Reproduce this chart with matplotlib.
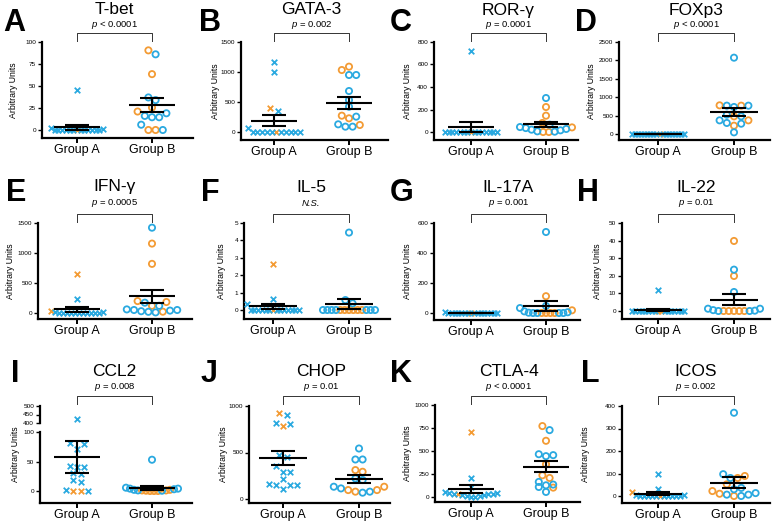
import numpy as np
import matplotlib.pyplot as plt
from matplotlib.lines import Line2D

plt.rcParams['font.family'] = ['Liberation Sans', 'DejaVu Sans']
plt.rcParams['mathtext.fontset'] = 'custom'
plt.rcParams['mathtext.it'] = 'Liberation Sans:italic'
plt.rcParams['mathtext.rm'] = 'Liberation Sans'

BLUE = '#2AA9E0'
ORANGE = '#F39B34'
W, H = 772, 524

# ---- data ----
titles = ['T-bet', 'GATA-3', 'ROR-\u03b3', 'FOXp3', 'IFN-\u03b3', 'IL-5',
          'IL-17A', 'IL-22', 'CCL2', 'CHOP', 'CTLA-4', 'ICOS']
letters = list('ABCDEFGHIJKL')
pvals = ['$\\it{p}$ < 0.0001', '$\\it{p}$ = 0.002', '$\\it{p}$ = 0.0001', '$\\it{p}$ < 0.0001',
         '$\\it{p}$ = 0.0005', 'N.S.', '$\\it{p}$ = 0.001', '$\\it{p}$ = 0.01',
         '$\\it{p}$ = 0.008', '$\\it{p}$ = 0.01', '$\\it{p}$ < 0.0001', '$\\it{p}$ = 0.002']
groups = ['Group A', 'Group B']

tbet_a_blue = [46, 2, 1, 0, 0, 0, 0, 0, 0, 0, 0, 0, 0, 0, 0]
tbet_a_orange = [0]
tbet_b_blue = [86, 37, 34, 19, 16, 14.5, 14.5, 6, 0]
tbet_b_orange = [90.5, 63.5, 25.5, 21, 0, 0]

gata3_a_blue = [1167, 1005, 350, 60, 0, 0, 0, 0, 0, 0, 0, 0, 0, 0]
gata3_a_orange = [394, 0]
gata3_b_blue = [950, 950, 683, 533, 422, 256, 128, 89, 89]
gata3_b_orange = [1089, 1033, 272, 228, 117]

rorg_a_blue = [723, 0, 0, 0, 0, 0, 0, 0, 0, 0, 0, 0, 0, 0, 0]
rorg_a_orange = [0]
rorg_b_blue = [302, 65, 44, 35, 27, 21, 15, 6, 3]
rorg_b_orange = [222, 145, 80, 41, 0, 0]

foxp3_a_blue = [0, 0, 0, 0, 0, 0, 0, 0, 0, 0, 0, 0, 0, 0, 0, 0, 0]
foxp3_a_orange = [0]
foxp3_b_blue = [2074, 770, 770, 734, 525, 480, 371, 300, 280, 45]
foxp3_b_orange = [779, 770, 480, 371, 226]

ifng_a_blue = [232, 15, 10, 0, 0, 0, 0, 0, 0, 0, 0, 0, 0, 0]
ifng_a_orange = [653, 33]
ifng_b_blue = [1422, 172, 120, 60, 50, 50, 40, 30, 20, 10]
ifng_b_orange = [1157, 819, 199, 183, 120, 22]

il5_a_blue = [0.63, 0.32, 0, 0, 0, 0, 0, 0, 0, 0, 0, 0, 0, 0, 0]
il5_a_orange = [2.67, 0]
il5_b_blue = [4.45, 0.57, 0.38, 0, 0, 0, 0, 0, 0, 0]
il5_b_orange = [0, 0, 0, 0, 0, 0]

il17_a_blue = [8, 0, 0, 0, 0, 0, 0, 0, 0, 0, 0, 0, 0, 0, 0, 0]
il17_a_orange = [0]
il17_b_blue = [540, 47, 33, 11, 5, 2, 0, 0, 0, 0]
il17_b_orange = [112, 18, 0, 0, 0, 0]

il22_a_blue = [11.7, 0, 0, 0, 0, 0, 0, 0, 0, 0, 0, 0, 0, 0, 0, 0]
il22_a_orange = [0, 0]
il22_b_blue = [23.5, 10.8, 1.3, 1.3, 0.5, 0.2, 0, 0]
il22_b_orange = [39.8, 19.9, 0, 0, 0, 0, 0]

ccl2_a_blue = [423, 81, 79, 71, 42, 40, 40, 30, 29, 19, 16, 2, 0.5]
ccl2_a_orange = [0, 0]
ccl2_b_blue = [53, 5.6, 4, 4, 3, 2, 1, 0.5]
ccl2_b_orange = [2, 1, 1, 0.5, 0, 0, 0]

chop_a_blue = [900, 814, 807, 471, 454, 354, 293, 293, 214, 161, 150, 150, 150, 104]
chop_a_orange = [925, 782]
chop_b_blue = [543, 425, 425, 221, 204, 132, 114, 79, 68]
chop_b_orange = [311, 293, 132, 96, 96, 79]

ctla4_a_blue = [207, 109, 50, 45, 40, 35, 35, 30, 25, 20, 15, 10, 5, 0]
ctla4_a_orange = [709, 29]
ctla4_b_blue = [727, 465, 455, 444, 164, 135, 127, 109, 55]
ctla4_b_orange = [771, 611, 356, 236, 207, 102]

icos_a_blue = [97, 33, 5, 3, 0, 0, 0, 0, 0, 0, 0, 0, 0, 0]
icos_a_orange = [18, 0]
icos_b_blue = [370, 97, 80, 36, 30, 13, 6, 6, 0]
icos_b_orange = [89, 80, 52, 22, 10, 0]

yticks = [[0, 25, 50, 75, 100], [0, 500, 1000, 1500], [0, 200, 400, 600, 800],
          [0, 500, 1000, 1500, 2000, 2500], [0, 500, 1000, 1500], [0, 1, 2, 3, 4, 5],
          [0, 200, 400, 600], [0, 10, 20, 30, 40, 50], [0, 50, 100],
          [0, 500, 1000], [0, 250, 500, 750, 1000], [0, 100, 200, 300, 400]]
ccl2_upper_ticks = [400, 450, 500]

data = [
    (tbet_a_blue, tbet_a_orange, tbet_b_blue, tbet_b_orange),
    (gata3_a_blue, gata3_a_orange, gata3_b_blue, gata3_b_orange),
    (rorg_a_blue, rorg_a_orange, rorg_b_blue, rorg_b_orange),
    (foxp3_a_blue, foxp3_a_orange, foxp3_b_blue, foxp3_b_orange),
    (ifng_a_blue, ifng_a_orange, ifng_b_blue, ifng_b_orange),
    (il5_a_blue, il5_a_orange, il5_b_blue, il5_b_orange),
    (il17_a_blue, il17_a_orange, il17_b_blue, il17_b_orange),
    (il22_a_blue, il22_a_orange, il22_b_blue, il22_b_orange),
    (ccl2_a_blue, ccl2_a_orange, ccl2_b_blue, ccl2_b_orange),
    (chop_a_blue, chop_a_orange, chop_b_blue, chop_b_orange),
    (ctla4_a_blue, ctla4_a_orange, ctla4_b_blue, ctla4_b_orange),
    (icos_a_blue, icos_a_orange, icos_b_blue, icos_b_orange),
]

# ---- layout in pixels: left, top, right, bottom, zero, xA, xB, letter x, ylabel x ----
layout = [
    (42, 42, 193, 138, 130, 77, 152, 3, 13),
    (241, 42, 388, 140, 132, 274, 349, 199, 216),
    (434, 42, 578, 140, 132, 471, 546, 390, 407),
    (619, 42, 770, 140, 134, 658, 734, 575, 592),
    (38, 223, 192, 319, 313, 77, 152, 6, 11),
    (244, 223, 390, 319, 310, 273, 349, 201, 221),
    (434, 223, 580, 320, 313, 471, 546, 390, 407),
    (622, 223, 770, 319, 311, 658, 734, 577, 597),
    (40, 432, 192, 503, 491, 77, 152, 11, 16),
    (249, 406, 390, 503, 499, 283, 359, 201, 224),
    (435, 405, 580, 502, 497, 471, 546, 390, 407),
    (622, 406, 770, 503, 496, 658, 734, 581, 586),
]
# title y, p y, bracket top, bracket legs, letter y
rows = [(10, 25, 33, 41, 23), (187, 203, 214, 222, 193), (371, 387, 396, 404, 374)]

fig = plt.figure(figsize=(W / 100, H / 100), dpi=100)


def add_px_axes(left, top, right, bottom):
    return fig.add_axes([left / W, 1 - bottom / H, (right - left) / W, (bottom - top) / H])


def style(ax, ticks, xaxis=True):
    for s in ['top', 'right']:
        ax.spines[s].set_visible(False)
    ax.spines['left'].set_linewidth(1.6)
    ax.set_yticks(ticks)
    ax.tick_params(axis='y', length=3, width=1.0, labelsize=4.6, pad=1.2, direction='out')
    if xaxis:
        ax.spines['bottom'].set_linewidth(1.6)
        ax.set_xticks([0, 1])
        ax.set_xticklabels(groups)
        ax.tick_params(axis='x', length=3.5, width=1.4, labelsize=9, pad=1.0)
    else:
        ax.spines['bottom'].set_visible(False)
        ax.set_xticks([])
    ax.patch.set_alpha(0)


def swarm(ypix, row_h=6.0, gap=7.2, max_w=52.0):
    # Prism-like: bin points into rows, lowest value in the middle of each row
    order = sorted(range(len(ypix)), key=lambda i: ypix[i])
    offs = [0.0] * len(ypix)
    rows_, cur = [], []
    for i in order:
        if cur and ypix[i] - ypix[cur[0]] > row_h:
            rows_.append(cur)
            cur = []
        cur.append(i)
    if cur:
        rows_.append(cur)
    for r in rows_:
        n = len(r)
        s = gap if n < 2 else min(gap, max_w / (n - 1))
        slots = sorted([(j - (n - 1) / 2) * s for j in range(n)], key=lambda x: (abs(x), -x))
        for i, x in zip(r, slots):
            offs[i] = x
    return offs


for k in range(12):
    left, top, right, bottom, zero, xa, xb, lx, ylx = layout[k]
    ty, py, bt, bl, ly = rows[k // 4]
    unit = xb - xa
    broken = titles[k] == 'CCL2'

    ax = add_px_axes(left, top, right, bottom)
    ymax = yticks[k][-1]
    per_px = ymax / (zero - top)
    ax.set_xlim((left - xa) / unit, (right - xa) / unit)
    ax.set_ylim(-(bottom - zero) * per_px, ymax)
    style(ax, yticks[k])

    axes_list = [(ax, -1e9, ymax * 1.001)]
    if broken:
        up = add_px_axes(left, 406, right, 423)
        up.set_xlim(ax.get_xlim())
        up.set_ylim(ccl2_upper_ticks[0], ccl2_upper_ticks[-1])
        style(up, ccl2_upper_ticks, xaxis=False)
        axes_list.append((up, ccl2_upper_ticks[0], 1e9))
    fig.canvas.draw()

    a_blue, a_orange, b_blue, b_orange = data[k]
    for g, (vals_o, vals_b, marker) in enumerate([(a_orange, a_blue, 'x'), (b_orange, b_blue, 'o')]):
        vals = list(vals_o) + list(vals_b)
        cols = [ORANGE] * len(vals_o) + [BLUE] * len(vals_b)
        owners = []
        ypix = []
        for v in vals:
            for (a, lo, hi) in axes_list:
                if lo <= v <= hi:
                    owners.append(a)
                    ypix.append(a.transData.transform((0, v))[1])
                    break
        offs = swarm(ypix)
        for v, c, o, a in zip(vals, cols, offs, owners):
            if marker == 'x':
                a.scatter(g + o / unit, v, marker='x', s=16, c=c, linewidths=1.3, zorder=3, clip_on=False)
            else:
                a.scatter(g + o / unit, v, marker='o', s=20, facecolors='none', edgecolors=c,
                          linewidths=1.3, zorder=3, clip_on=False)
        arr = np.array(vals, dtype=float)
        m = arr.mean()
        sem = arr.std(ddof=1) / np.sqrt(len(arr))
        ax.hlines(m, g - 0.31, g + 0.31, color='black', lw=1.5, zorder=4)
        ax.vlines(g, m - sem, m + sem, color='black', lw=1.5, zorder=4)
        ax.hlines([m - sem, m + sem], g - 0.16, g + 0.16, color='black', lw=1.5, zorder=4)

    # titles, p value, bracket
    xm = (xa + xb) / 2
    fig.text(xm / W, 1 - ty / H, titles[k], ha='center', va='center', fontsize=12.5)
    if pvals[k] == 'N.S.':
        fig.text(xm / W, 1 - py / H, 'N.S.', ha='center', va='center', fontsize=6.8, style='italic')
    else:
        fig.text(xm / W, 1 - py / H, pvals[k], ha='center', va='center', fontsize=6.8)
    fig.add_artist(Line2D([xa / W, xa / W, xb / W, xb / W],
                          [1 - bl / H, 1 - bt / H, 1 - bt / H, 1 - bl / H],
                          color='#333333', lw=0.7))
    fig.text(lx / W, 1 - ly / H, letters[k], ha='left', va='center', fontsize=22, fontweight='bold')
    ytop = 406 if broken else top
    fig.text(ylx / W, 1 - (ytop + bottom) / 2 / H, 'Arbitrary Units', rotation=90,
             ha='center', va='center', fontsize=6.3)

fig.savefig('out.png', dpi=100)
